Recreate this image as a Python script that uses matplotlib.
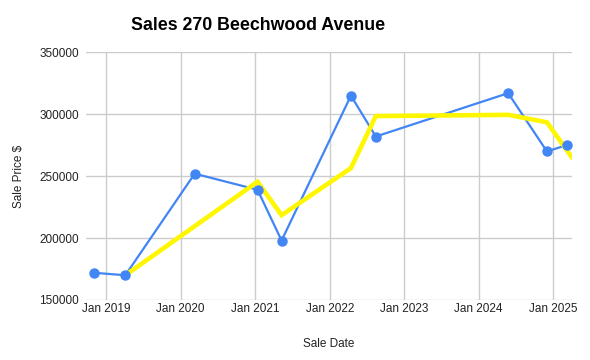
import matplotlib
matplotlib.use("Agg")
import matplotlib.pyplot as plt
from matplotlib.ticker import FixedLocator
import datetime as dt

plt.rcParams['font.family'] = ['Liberation Sans', 'DejaVu Sans']

# Sales (blue, with markers)
sale_dates = ["2018-10-31", "2019-04-05", "2020-03-10", "2021-01-12", "2021-05-10",
              "2022-04-15", "2022-08-15", "2024-05-25", "2024-12-01", "2025-03-08"]
sale_prices = [172000, 170000, 252000, 239000, 198000, 315000, 282000, 317000, 270000, 275000]

# Trend (yellow)
trend_dates = ["2019-04-05", "2021-01-12", "2021-05-10", "2022-04-15", "2022-08-15",
               "2024-05-25", "2024-12-01", "2025-04-01"]
trend_prices = [170000, 245500, 218500, 256500, 298500, 299500, 293500, 265500]

y_ticks = [150000, 200000, 250000, 300000, 350000]
x_tick_years = [2019, 2020, 2021, 2022, 2023, 2024, 2025]

def to_dt(s):
    return dt.datetime.strptime(s, "%Y-%m-%d")

sd = [to_dt(s) for s in sale_dates]
td = [to_dt(s) for s in trend_dates]

fig = plt.figure(figsize=(5.9, 3.6), dpi=100)
ax = fig.add_axes([86/590, 1-300/360, (572-86)/590, (300-52.3)/360])

ax.plot(sd, sale_prices, color="#4285F4", lw=1.6, zorder=3, clip_on=False)
ax.plot(td, trend_prices, color="#FFF700", lw=3.3, solid_joinstyle='miter', zorder=4, clip_on=True)
ax.plot(sd, sale_prices, color="#4285F4", lw=0, marker='o', ms=6.5, zorder=5, clip_on=False)

ax.set_xlim(dt.datetime(2018, 9, 24), dt.datetime(2025, 4, 3))
ax.set_ylim(150000, 350000)
ax.yaxis.set_major_locator(FixedLocator(y_ticks))
ax.set_yticklabels([str(v) for v in y_ticks])
ax.set_xticks([dt.datetime(y, 1, 1) for y in x_tick_years])
ax.set_xticklabels([f"Jan {y}" for y in x_tick_years])

ax.grid(True, color="#cccccc", lw=1)
ax.set_axisbelow(True)
for s in ax.spines.values():
    s.set_visible(False)
ax.tick_params(length=0, labelsize=8.5, colors="#222222", pad=5)
ax.tick_params(axis='x', pad=2)

ax.set_xlabel("Sale Date", fontsize=8.5, color="#222222", labelpad=17)
ax.set_ylabel("Sale Price $", fontsize=8.5, color="#222222", labelpad=10)

fig.text(258/590, 1-25/360, "Sales 270 Beechwood Avenue", ha='center', va='center',
         fontsize=12.8, fontweight='bold', color="#000000")

fig.savefig("out.png", dpi=100, facecolor="white")
